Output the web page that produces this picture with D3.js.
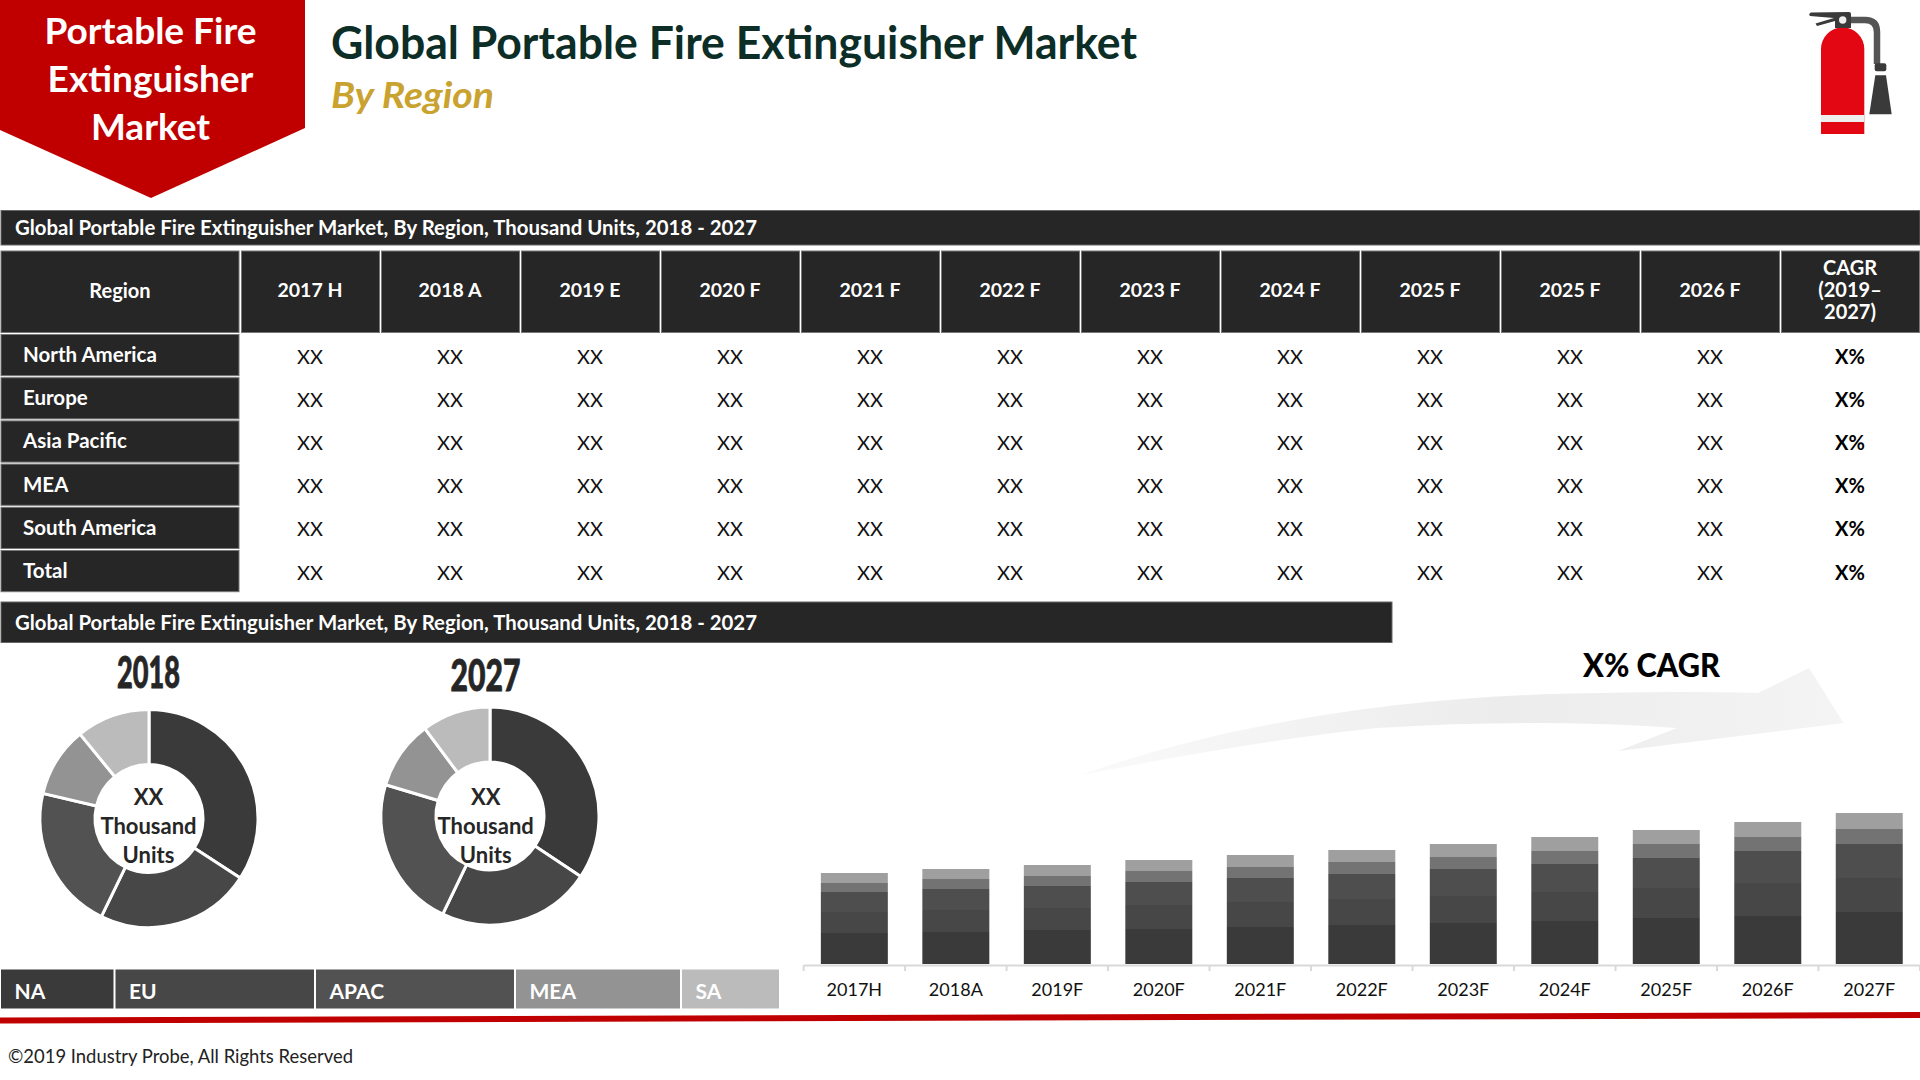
<!DOCTYPE html>
<html>
<head>
<meta charset="utf-8">
<script src="https://d3js.org/d3.v7.min.js"></script>
<style>
html,body{margin:0;padding:0;background:#fff;}
svg{display:block;}
text{font-family:Lato,"Open Sans",sans-serif;}
</style>
</head>
<body>
<script>
// table content
var tableCols = ["2017 H","2018 A","2019 E","2020 F","2021 F","2022 F","2023 F","2024 F","2025 F","2025 F","2026 F"];
var cagrHead = ["CAGR","(2019\u2013","2027)"];
var tableRegions = ["North America","Europe","Asia Pacific","MEA","South America","Total"];
var cellText = "XX";
var cagrText = "X%";
var bandTitle = "Global Portable Fire Extinguisher Market, By Region, Thousand Units, 2018 - 2027";

// donuts, share by region
var legendNames = ["NA","EU","APAC","MEA","SA"];
var share2018 = [34.2,23,21.5,10.4,10.9];
var share2027 = [34.4,22.8,22.5,10.2,10.2];

// stacked bars, no axis in the picture so the units are only relative
var barYears = ["2017H","2018A","2019F","2020F","2021F","2022F","2023F","2024F","2025F","2026F","2027F"];
var naVals   = [31,32,34,35,37,39,41,43,46,48,52];
var euVals   = [21,22,22,24,25,26,27,29,30,33,34];
var apacVals = [20,21,22,23,24,25,27,28,30,32,34];
var meaVals  = [9,10,10,11,11,12,12,13,14,14,15];
var saVals   = [10,10,11,11,12,12,13,14,14,15,16];

var dark = "#262626";
var red = "#c00000";
var donutColors = ["#3a3a3a","#474747","#525252","#939393","#bbbbbb"];
var barColors = ["#3a3a3a","#474747","#4e4e4e","#737373","#9f9f9f"];

var svg = d3.select("body").append("svg")
  .attr("width",1920)
  .attr("height",1080);

// red banner
svg.append("polygon")
  .attr("points","0,0 305,0 305,128 151,198 0,130")
  .attr("fill",red);
var bannerLines = ["Portable Fire","Extinguisher","Market"];
svg.selectAll(".bannerText")
  .data(bannerLines)
  .enter()
  .append("text")
  .attr("x",150.5)
  .attr("y",function(d,i){return 44+i*48;})
  .attr("text-anchor","middle")
  .attr("font-size",37)
  .attr("font-weight",700)
  .attr("fill","#fff")
  .text(function(d){return d});

svg.append("text")
  .text("Global Portable Fire Extinguisher Market")
  .attr("x",331)
  .attr("y",59)
  .attr("textLength",806)
  .attr("lengthAdjust","spacingAndGlyphs")
  .attr("font-size",46)
  .attr("font-weight",700)
  .attr("fill","#0c2e26");
svg.append("text")
  .text("By Region")
  .attr("x",331)
  .attr("y",108)
  .attr("textLength",163)
  .attr("lengthAdjust","spacingAndGlyphs")
  .attr("font-size",37)
  .attr("font-weight",700)
  .attr("font-style","italic")
  .attr("fill","#c9a22f");

// extinguisher icon
var icon = svg.append("g");
icon.append("path")
  .attr("d","M1851 20H1865Q1877 20 1877 32V64")
  .attr("fill","none")
  .attr("stroke","#555")
  .attr("stroke-width",6.5);
icon.append("path")
  .attr("d","M1821 134V49A21.6 21.6 0 0 1 1864.3 49V134Z")
  .attr("fill","#e30613");
icon.append("rect").attr("x",1821).attr("y",115).attr("width",43.3).attr("height",7).attr("fill","#eee");
icon.append("path")
  .attr("d","M1811 12.5L1849 12Q1851 12 1851 14V28H1835V21L1817 26L1815.5 23.5L1834 18L1810 16Q1808 14 1811 12.5Z")
  .attr("fill","#3a3a3a");
icon.append("circle").attr("cx",1842.7).attr("cy",20).attr("r",3.7).attr("fill","#eee");
icon.append("rect").attr("x",1874.7).attr("y",63.3).attr("width",11.6).attr("height",8).attr("rx",2).attr("fill","#3a3a3a");
icon.append("polygon").attr("points","1875.3,75.3 1886,75.3 1891.7,114.3 1869.3,114.3").attr("fill","#3a3a3a");

// table
var colX = d3.scaleBand().domain(d3.range(tableCols.length+1)).range([240,1920]);
var rowY = d3.scaleBand().domain(tableRegions).range([334,593.2]);

function band(y,h,w){
  svg.append("rect").attr("x",1).attr("y",y).attr("width",w).attr("height",h)
    .attr("fill",dark).attr("stroke","#666").attr("stroke-width",1);
  svg.append("text").text(bandTitle)
    .attr("x",15).attr("y",y+h/2+7.5)
    .attr("textLength",742).attr("lengthAdjust","spacingAndGlyphs")
    .attr("font-size",20).attr("font-weight",700).attr("fill","#fff");
}
band(210.5,34.5,1919);

svg.append("rect").attr("x",1).attr("y",251).attr("width",238).attr("height",81.5)
  .attr("fill",dark).attr("stroke","#777");
svg.append("text").text("Region").attr("x",120).attr("y",297.5)
  .attr("text-anchor","middle").attr("font-size",20).attr("font-weight",700).attr("fill","#fff");

svg.selectAll(".headCell")
  .data(d3.range(tableCols.length+1))
  .enter()
  .append("rect")
  .attr("x",function(d){return colX(d)+1.5;})
  .attr("y",251)
  .attr("width",colX.bandwidth()-2)
  .attr("height",81.5)
  .attr("fill",dark)
  .attr("stroke","#777");

svg.selectAll(".headText")
  .data(tableCols)
  .enter()
  .append("text")
  .attr("x",function(d,i){return colX(i)+colX.bandwidth()/2;})
  .attr("y",297)
  .attr("text-anchor","middle")
  .attr("font-size",19.5)
  .attr("font-weight",700)
  .attr("fill","#fff")
  .text(function(d){return d});

svg.selectAll(".cagrHead")
  .data(cagrHead)
  .enter()
  .append("text")
  .attr("x",1850)
  .attr("y",function(d,i){return 275+i*22;})
  .attr("text-anchor","middle")
  .attr("font-size",20)
  .attr("font-weight",700)
  .attr("fill","#fff")
  .text(function(d){return d});

var rows = svg.selectAll(".row")
  .data(tableRegions)
  .enter()
  .append("g")
  .attr("transform",function(d){return "translate(0,"+rowY(d)+")";});

rows.append("rect")
  .attr("x",1)
  .attr("y",0.5)
  .attr("width",238)
  .attr("height",rowY.bandwidth()-2)
  .attr("fill",dark)
  .attr("stroke","#777");
rows.append("text")
  .attr("x",23)
  .attr("y",28)
  .attr("font-size",20.5)
  .attr("font-weight",700)
  .attr("fill","#fff")
  .text(function(d){return d});

rows.each(function(){
  var r = d3.select(this);
  r.selectAll(".cell")
    .data(tableCols)
    .enter()
    .append("text")
    .attr("x",function(d,i){return colX(i)+colX.bandwidth()/2;})
    .attr("y",29.5)
    .attr("text-anchor","middle")
    .attr("font-size",20)
    .attr("fill","#111")
    .text(cellText);
  r.append("text")
    .attr("x",1850)
    .attr("y",29.5)
    .attr("text-anchor","middle")
    .attr("font-size",20)
    .attr("font-weight",700)
    .attr("fill","#000")
    .text(cagrText);
});

band(602,40.5,1391);

// donuts
var pie = d3.pie().sort(null);
var arc = d3.arc().innerRadius(54).outerRadius(109);

function donut(vals,cx,cy,year,yearX,yearY,yearW,labelX){
  var g = svg.append("g").attr("transform","translate("+cx+","+cy+")");
  g.selectAll("path")
    .data(pie(vals))
    .enter()
    .append("path")
    .attr("d",arc)
    .attr("fill",function(d,i){return donutColors[i];})
    .attr("stroke","#fff")
    .attr("stroke-width",3);
  svg.append("text").text(year)
    .attr("x",yearX).attr("y",yearY)
    .attr("textLength",yearW).attr("lengthAdjust","spacingAndGlyphs")
    .attr("font-size",43).attr("font-weight",900)
    .attr("stroke","#262626").attr("stroke-width",0.8)
    .attr("fill","#262626");
  svg.selectAll(".c"+year)
    .data(["XX","Thousand","Units"])
    .enter()
    .append("text")
    .attr("x",labelX)
    .attr("y",function(d,i){return 804.5+i*29;})
    .attr("text-anchor","middle")
    .attr("font-size",22)
    .attr("font-weight",700)
    .attr("fill","#262626")
    .text(function(d){return d});
}
donut(share2018,149,818.5,"2018",117,688,63,148.5);
donut(share2027,490,816,"2027",450.5,691,70,485.7);

// legend strip
var legendEdges = [0,114.5,315,515,681,780];
svg.selectAll(".legendCell")
  .data(legendNames)
  .enter()
  .append("rect")
  .attr("x",function(d,i){return legendEdges[i]+1;})
  .attr("y",969.5)
  .attr("width",function(d,i){return legendEdges[i+1]-legendEdges[i]-2;})
  .attr("height",39)
  .attr("fill",function(d,i){return donutColors[i];});
svg.selectAll(".legendText")
  .data(legendNames)
  .enter()
  .append("text")
  .attr("x",function(d,i){return legendEdges[i]+14.5;})
  .attr("y",998.5)
  .attr("font-size",21)
  .attr("font-weight",700)
  .attr("fill","#fff")
  .text(function(d){return d});

// CAGR arrow
var arrowGrad = svg.append("defs").append("linearGradient")
  .attr("id","arrowGrad")
  .attr("gradientUnits","userSpaceOnUse")
  .attr("x1",1081).attr("y1",0).attr("x2",1843).attr("y2",0);
arrowGrad.append("stop").attr("offset","0").attr("stop-color","#fafafa");
arrowGrad.append("stop").attr("offset","0.55").attr("stop-color","#ececec");
arrowGrad.append("stop").attr("offset","1").attr("stop-color","#f4f4f4");
svg.append("path")
  .attr("d","M1081 775C1220 725 1400 695 1601 693Q1690 691 1758 693L1809 668L1843.6 723L1618 751L1677 728Q1540 718 1377 728Q1260 740 1081 775Z")
  .attr("fill","url(#arrowGrad)");
svg.append("text").text("X% CAGR")
  .attr("x",1583).attr("y",676.5)
  .attr("textLength",137).attr("lengthAdjust","spacingAndGlyphs")
  .attr("font-size",33).attr("font-weight",900)
  .attr("fill","#000");

// stacked bars
var x = d3.scaleBand()
  .domain(barYears)
  .range([803.6,1920])
  .paddingInner(0.34)
  .paddingOuter(0.17);
var y = d3.scaleLinear().domain([0,160]).range([964,804]);

var stackRows = barYears.map(function(d,i){
  return {year:d,na:naVals[i],eu:euVals[i],apac:apacVals[i],mea:meaVals[i],sa:saVals[i]};
});
var series = d3.stack().keys(["na","eu","apac","mea","sa"])(stackRows);

svg.selectAll(".series")
  .data(series)
  .enter()
  .append("g")
  .attr("fill",function(d,i){return barColors[i];})
  .selectAll("rect")
  .data(function(d){return d})
  .enter()
  .append("rect")
  .attr("x",function(d){return x(d.data.year);})
  .attr("y",function(d){return y(d[1]);})
  .attr("width",x.bandwidth())
  .attr("height",function(d){return y(d[0])-y(d[1]);});

var axis = svg.append("g")
  .attr("transform","translate(0,965)")
  .call(d3.axisBottom(x).tickSize(0).tickPadding(18));
axis.select(".domain").attr("stroke","#d9d9d9").attr("stroke-width",2);
axis.selectAll("text")
  .attr("font-size",18)
  .attr("font-family","Lato")
  .attr("fill","#111");
// ticks sit between the categories
axis.selectAll(".edge")
  .data(d3.range(barYears.length+1))
  .enter()
  .append("line")
  .attr("x1",function(d){return x.range()[0]+d*x.step();})
  .attr("x2",function(d){return x.range()[0]+d*x.step();})
  .attr("y1",0)
  .attr("y2",6)
  .attr("stroke","#d9d9d9")
  .attr("stroke-width",2);

// bottom rule and footer
svg.append("polygon")
  .attr("points","0,1017.5 1920,1012 1920,1018 0,1023.5")
  .attr("fill",red);
svg.append("text").text("\u00a92019 Industry Probe, All Rights Reserved")
  .attr("x",8).attr("y",1063)
  .attr("textLength",345).attr("lengthAdjust","spacingAndGlyphs")
  .attr("font-size",19)
  .attr("fill","#222");
</script>
</body>
</html>
